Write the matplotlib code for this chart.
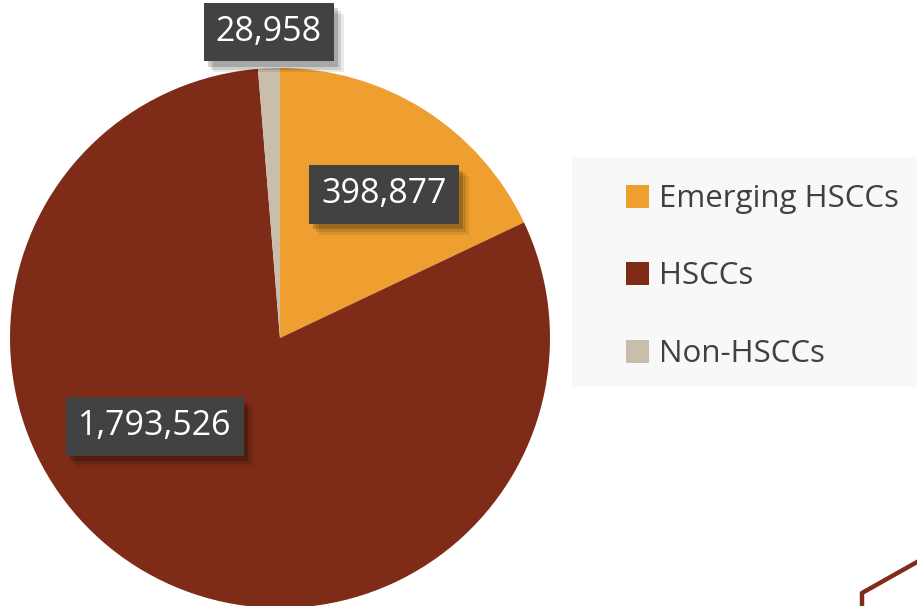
import matplotlib
matplotlib.use('Agg')
import matplotlib.pyplot as plt
import matplotlib.patheffects as pe
from matplotlib.patches import Rectangle
from matplotlib.lines import Line2D

categories = ['Emerging HSCCs', 'HSCCs', 'Non-HSCCs']
values = [398877, 1793526, 28958]
colors = ['#EE9F2F', '#7E2C17', '#C9BEAB']
# label box centres in pie data units (relative to pie centre, radius = 1)
label_xy = [(0.385, 0.532), (-0.463, -0.327), (-0.041, 1.133)]

W, H = 917, 606
fig = plt.figure(figsize=(W / 100, H / 100), dpi=100)
fig.patch.set_facecolor('white')

cx, cy, R = 280, 338, 270
ax = fig.add_axes([(cx - R) / W, (H - cy - R) / H, 2 * R / W, 2 * R / H])
wedges, _ = ax.pie(values, colors=colors, startangle=90, counterclock=False,
                   radius=1, wedgeprops=dict(linewidth=0))
ax.set_xlim(-1, 1)
ax.set_ylim(-1, 1)
ax.set_aspect('equal')
ax.axis('off')

shadow = [pe.withSimplePatchShadow(offset=(o, -o - 1), shadow_rgbFace='black', alpha=a)
          for o, a in ((7, 0.08), (5, 0.12), (3, 0.18))] + [pe.Normal()]
for v, (x, y) in zip(values, label_xy):
    t = ax.text(x, y, f"{v:,}", ha='center', va='center', fontsize=24.5,
                color='white', family='Open Sans', zorder=5,
                bbox=dict(boxstyle='square,pad=0.36', fc='#424242', ec='none'))
    t.get_bbox_patch().set_path_effects(shadow)

# legend background panel
fig.add_artist(Rectangle((572 / W, (H - 387) / H), (W - 572) / W, 230 / H,
                         transform=fig.transFigure, fc='#f8f8f8', ec='none', zorder=0))

handles = [Rectangle((0, 0), 1, 1, fc=c, ec='none') for c in colors]
leg = fig.legend(handles, categories, loc='upper left',
                 bbox_to_anchor=(626 / W, (H - 184) / H), frameon=False,
                 prop={'family': 'Open Sans', 'size': 22.5},
                 handlelength=0.75, handleheight=0.75, handletextpad=0.3,
                 labelspacing=1.52, borderaxespad=0, borderpad=0,
                 labelcolor='#404040')

# decorative corner line
fig.add_artist(Line2D([862 / W, 862 / W, 917 / W], [0, (H - 593) / H, (H - 562) / H],
                      transform=fig.transFigure, color='#7F2D18', lw=3.2))

fig.savefig('out.png', dpi=100)
